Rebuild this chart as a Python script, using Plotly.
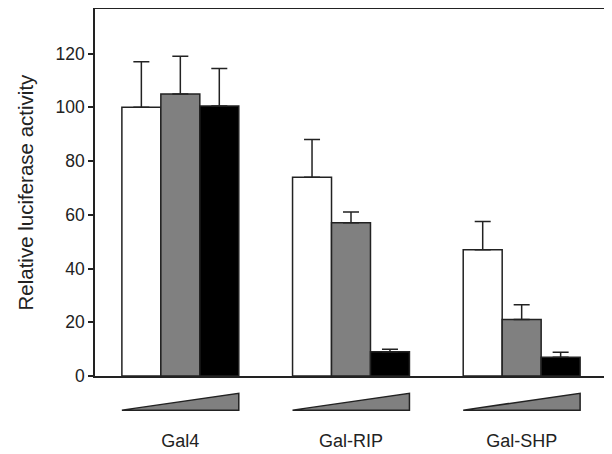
import plotly.graph_objects as go

categories = ["Gal4", "Gal-RIP", "Gal-SHP"]
low_dose = [100, 74, 47]
low_err = [17, 14, 10.5]
mid_dose = [105, 57, 21]
mid_err = [14, 4, 5.5]
high_dose = [100.5, 9, 7]
high_err = [14, 1, 1.8]
y_ticks = [0, 20, 40, 60, 80, 100, 120]

series = [
    ("low", low_dose, low_err, "white"),
    ("mid", mid_dose, mid_err, "#808080"),
    ("high", high_dose, high_err, "black"),
]

FONT = "Liberation Sans, Arial, sans-serif"

fig = go.Figure()
for name, vals, errs, color in series:
    fig.add_trace(go.Bar(
        x=categories, y=vals, name=name,
        marker=dict(color=color, line=dict(color="#222222", width=1.5)),
        error_y=dict(type="data", symmetric=False, array=errs,
                     arrayminus=[0] * len(errs), color="#222222",
                     thickness=1.5, width=8),
        showlegend=False,
    ))

# dose wedges under each group
group_half = 0.3425
for i, _ in enumerate(categories):
    x0 = i - group_half
    x1 = i + group_half
    fig.add_shape(
        type="path",
        xref="x", yref="paper",
        path=f"M {x0} -0.093 L {x1} -0.047 L {x1} -0.093 Z",
        fillcolor="#808080",
        line=dict(color="#222222", width=1.5),
        layer="above",
    )

fig.add_annotation(
    text="Relative luciferase activity",
    xref="paper", yref="paper",
    x=-70 / 512, y=0.5, xanchor="center", yanchor="middle",
    textangle=-90, showarrow=False,
    font=dict(size=20.5, family=FONT, color="#222222"),
)

# page body has an 8px default margin, so the figure is sized to fit the window
fig.update_layout(
    width=604, height=446,
    margin=dict(l=87, r=5, t=1, b=78),
    paper_bgcolor="white", plot_bgcolor="white",
    barmode="group", bargap=0.315, bargroupgap=0,
    font=dict(family=FONT, size=18, color="#222222"),
    xaxis=dict(
        range=[-0.5, 2.5], automargin=False,
        showline=True, linecolor="#222222", linewidth=1.5, mirror=True,
        ticks="", showgrid=False, zeroline=False,
        tickfont=dict(size=18), ticklabelstandoff=48,
    ),
    yaxis=dict(
        range=[0, 136.6], tickvals=y_ticks, automargin=False,
        showline=True, linecolor="#222222", linewidth=1.5, mirror=True,
        ticks="outside", ticklen=5, tickwidth=1.5, tickcolor="#222222",
        showgrid=False, zeroline=False,
        tickfont=dict(size=17.5),
    ),
)

fig.write_html("out.html")
